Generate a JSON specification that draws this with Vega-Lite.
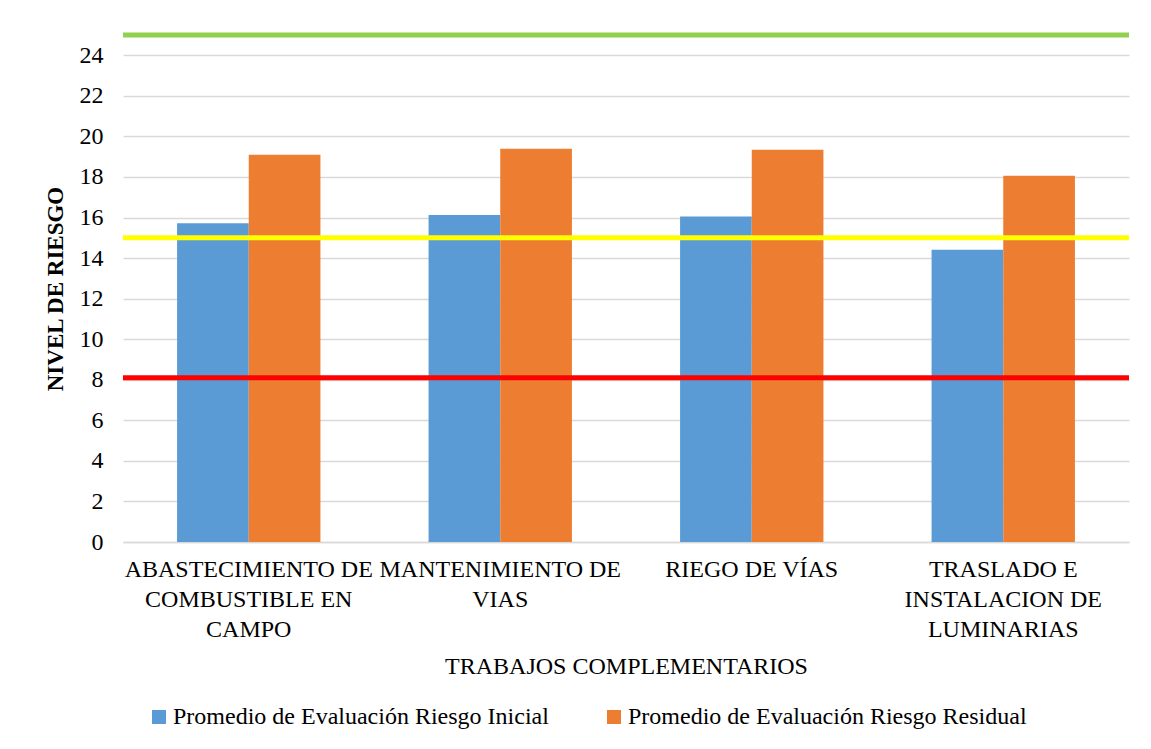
{
  "$schema": "https://vega.github.io/schema/vega-lite/v6.json",
  "width": 1006,
  "height": 507,
  "autosize": "none",
  "padding": {"left": 123, "top": 35, "right": 22, "bottom": 207},
  "background": "white",
  "config": {
    "font": "Liberation Serif",
    "view": {"stroke": null},
    "axis": {"labelColor": "black", "titleColor": "black", "labelFont": "Liberation Serif", "titleFont": "Liberation Serif"},
    "legend": {"labelFont": "Liberation Serif", "labelColor": "black"}
  },
  "layer": [
    {
      "data": {"values": [
        {"categoria": "ABASTECIMIENTO DE COMBUSTIBLE EN CAMPO", "serie": "Promedio de Evaluación Riesgo Inicial", "valor": 15.72},
        {"categoria": "ABASTECIMIENTO DE COMBUSTIBLE EN CAMPO", "serie": "Promedio de Evaluación Riesgo Residual", "valor": 19.09},
        {"categoria": "MANTENIMIENTO DE VIAS", "serie": "Promedio de Evaluación Riesgo Inicial", "valor": 16.13},
        {"categoria": "MANTENIMIENTO DE VIAS", "serie": "Promedio de Evaluación Riesgo Residual", "valor": 19.39},
        {"categoria": "RIEGO DE VÍAS", "serie": "Promedio de Evaluación Riesgo Inicial", "valor": 16.05},
        {"categoria": "RIEGO DE VÍAS", "serie": "Promedio de Evaluación Riesgo Residual", "valor": 19.34},
        {"categoria": "TRASLADO E INSTALACION DE LUMINARIAS", "serie": "Promedio de Evaluación Riesgo Inicial", "valor": 14.41},
        {"categoria": "TRASLADO E INSTALACION DE LUMINARIAS", "serie": "Promedio de Evaluación Riesgo Residual", "valor": 18.06}
      ]},
      "mark": {"type": "bar"},
      "encoding": {
        "x": {
          "field": "categoria", "type": "nominal", "sort": null,
          "scale": {"paddingInner": 0.43, "paddingOuter": 0.215},
          "axis": {
            "title": "TRABAJOS COMPLEMENTARIOS",
            "titleFontSize": 24, "titleFontWeight": "normal", "titlePadding": 13,
            "labelAngle": 0, "labelFontSize": 24, "labelLimit": 0, "labelLineHeight": 30,
            "labelPadding": 15, "ticks": false, "tickSize": 0,
            "domainColor": "#d9d9d9", "domainWidth": 1.5,
            "labelExpr": "datum.label == 'ABASTECIMIENTO DE COMBUSTIBLE EN CAMPO' ? ['ABASTECIMIENTO DE', 'COMBUSTIBLE EN', 'CAMPO'] : datum.label == 'MANTENIMIENTO DE VIAS' ? ['MANTENIMIENTO DE', 'VIAS'] : datum.label == 'TRASLADO E INSTALACION DE LUMINARIAS' ? ['TRASLADO E', 'INSTALACION DE', 'LUMINARIAS'] : datum.label"
          }
        },
        "xOffset": {"field": "serie", "type": "nominal", "sort": null, "scale": {"paddingInner": 0, "paddingOuter": 0}},
        "y": {
          "field": "valor", "type": "quantitative",
          "scale": {"domain": [0, 25], "nice": false},
          "axis": {
            "title": "NIVEL DE RIESGO", "titleFontSize": 23, "titleFontWeight": "bold", "titlePadding": 12,
            "values": [0, 2, 4, 6, 8, 10, 12, 14, 16, 18, 20, 22, 24],
            "labelFontSize": 24, "labelPadding": 20, "ticks": false, "tickSize": 0, "domain": false,
            "gridColor": "#d9d9d9", "gridWidth": 1.5
          }
        },
        "color": {
          "field": "serie", "type": "nominal", "sort": null,
          "scale": {"domain": ["Promedio de Evaluación Riesgo Inicial", "Promedio de Evaluación Riesgo Residual"], "range": ["#5B9BD5", "#ED7D31"]},
          "legend": {
            "title": null, "orient": "none", "legendX": 24, "legendY": 670, "direction": "horizontal",
            "symbolType": "square", "symbolSize": 196, "symbolStrokeWidth": 0, "symbolOpacity": 1,
            "labelFontSize": 24, "labelOffset": 2, "columnPadding": 53, "labelLimit": 0, "padding": 0
          }
        }
      }
    },
    {
      "data": {"values": [
        {"umbral": "alto", "nivel": 25},
        {"umbral": "medio", "nivel": 15},
        {"umbral": "bajo", "nivel": 8.1}
      ]},
      "mark": {"type": "rule", "strokeWidth": 5},
      "encoding": {
        "y": {"field": "nivel", "type": "quantitative", "scale": {"domain": [0, 25], "nice": false}},
        "stroke": {
          "field": "umbral", "type": "nominal",
          "scale": {"domain": ["alto", "medio", "bajo"], "range": ["#92D050", "#FFFF00", "#FF0000"]},
          "legend": null
        }
      }
    }
  ]
}
